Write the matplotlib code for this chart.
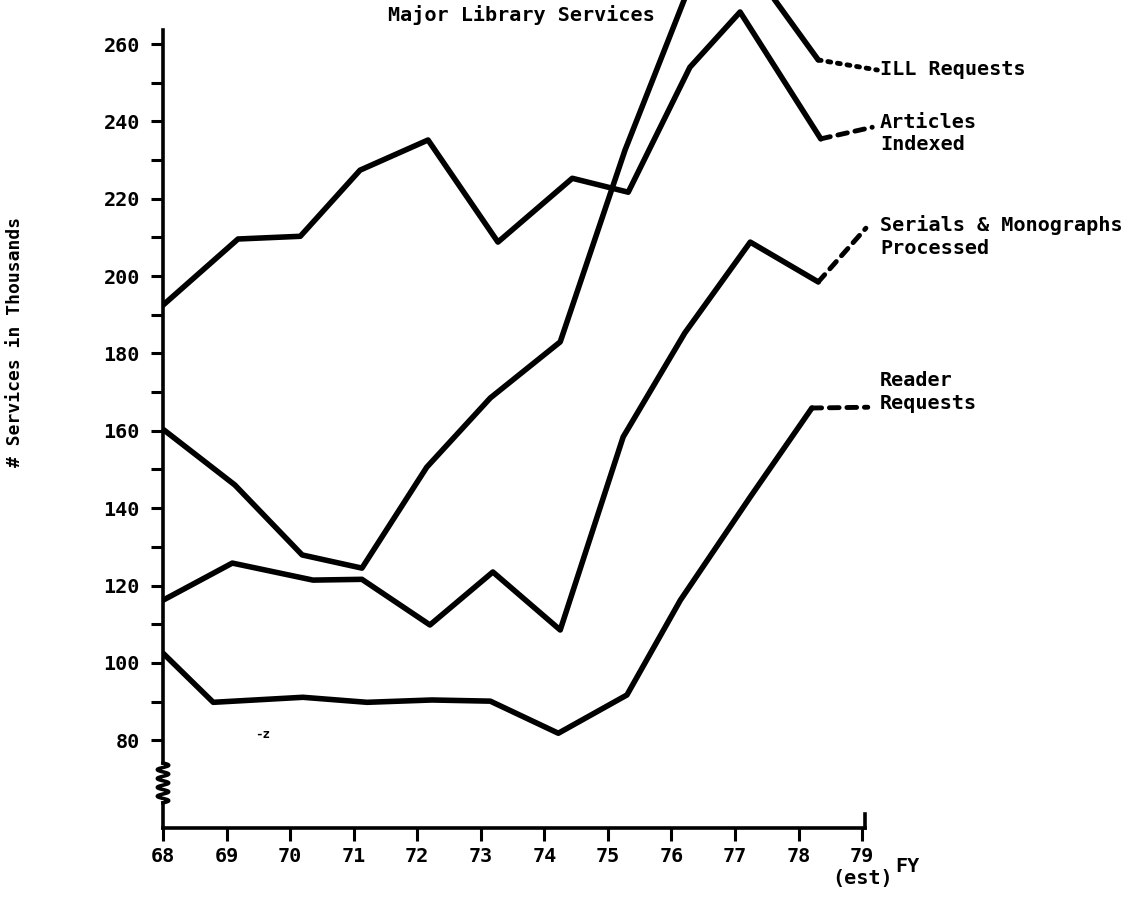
import numpy as np
import matplotlib
matplotlib.use("Agg")
import matplotlib.pyplot as plt
from matplotlib.transforms import blended_transform_factory

plt.rcParams['font.family'] = ['DejaVu Sans Mono']
plt.rcParams['font.weight'] = 'bold'

# fiscal years on the axis
fy_ticks = [68, 69, 70, 71, 72, 73, 74, 75, 76, 77, 78, 79]
fy_labels = ['68', '69', '70', '71', '72', '73', '74', '75', '76', '77', '78', '79\n(est)']

# each series (FY position, thousands)
ill_x = [68.0, 69.13, 70.19, 71.13, 72.15, 73.15, 74.25, 75.27, 76.31, 77.16, 78.31]
ill_y = [160.4, 146.0, 127.9, 124.5, 150.6, 168.5, 183.0, 232.6, 276.0, 282.0, 255.9]

articles_x = [68.0, 69.18, 70.16, 71.10, 72.17, 73.27, 74.44, 75.32, 76.29, 77.08, 78.35]
articles_y = [192.5, 209.6, 210.3, 227.4, 235.2, 208.8, 225.3, 221.7, 254.0, 268.3, 235.5]

serials_x = [68.0, 69.09, 70.36, 71.13, 72.20, 73.19, 74.25, 75.24, 76.21, 77.24, 78.31]
serials_y = [116.2, 125.8, 121.4, 121.6, 109.8, 123.5, 108.5, 158.4, 185.3, 208.8, 198.5]

reader_x = [68.0, 68.79, 70.20, 71.21, 72.23, 73.15, 74.22, 75.30, 76.14, 77.24, 78.21]
reader_y = [102.5, 89.8, 91.1, 89.8, 90.4, 90.1, 81.8, 91.7, 116.2, 142.9, 165.9]

series = [ill_x, articles_x, serials_x, reader_x]
values = [ill_y, articles_y, serials_y, reader_y]

# labels on the right and where the dashed leaders end
names = ['ILL Requests', 'Articles\nIndexed', 'Serials & Monographs\nProcessed', 'Reader\nRequests']
label_y = [253.3, 236.9, 210.2, 170.1]
leader_x = [79.24, 79.16, 79.06, 79.09]
leader_y = [253.3, 238.5, 212.4, 166.1]
leader_style = [(0, (0.6, 1.4)), (0, (2.0, 1.6)), (0, (2.0, 1.6)), (0, (2.0, 1.6))]

fig = plt.figure(figsize=(11.4, 9), dpi=100)
ax = fig.add_axes([0.143, 0.08, 0.6188, 0.92])
ax.set_xlim(68, 79.1)
ax.set_ylim(57.3, 271.4)

for xs, ys in zip(series, values):
    ax.plot(xs, ys, color='black', lw=4, solid_joinstyle='round', solid_capstyle='round')

for xs, ys, ly, lx2, ly2, st, nm in zip(series, values, label_y, leader_x, leader_y, leader_style, names):
    ax.plot([xs[-1], lx2], [ys[-1], ly2], color='black', lw=3.5, linestyle=st,
            dash_capstyle='round', clip_on=False)
    ax.text(79.28, ly, nm, ha='left', va='center', fontsize=14.5, linespacing=1.25)

# axes look
for s in ['top', 'right']:
    ax.spines[s].set_visible(False)
ax.spines['left'].set_bounds(74.1, 263.6)
ax.spines['bottom'].set_bounds(68, 79.05)
ax.spines['left'].set_linewidth(2.6)
ax.spines['bottom'].set_linewidth(2.6)

# zigzag break at the bottom of the value axis
zy = np.linspace(63.8, 74.1, 80)
zx = 68 + 0.09 * np.sin((zy - 63.8) / (74.1 - 63.8) * 2 * np.pi * 4.5)
ax.plot(zx, zy, color='black', lw=2.6, clip_on=False)
ax.plot([68, 68], [57.3, 63.8], color='black', lw=2.6, clip_on=False)
ax.plot([79.05, 79.05], [57.3, 60.8], color='black', lw=2.6, clip_on=False)

ax.set_yticks(np.arange(80, 261, 20))
ax.set_yticks(np.arange(90, 251, 20), minor=True)
ax.tick_params(axis='y', which='both', length=8.6, width=2.2, pad=8, labelsize=14.5)
ax.set_xticks(fy_ticks)
ax.set_xticklabels(fy_labels, linespacing=1.2)
ax.tick_params(axis='x', length=9, width=2.2, pad=5, labelsize=14.5)

tr = blended_transform_factory(ax.transData, ax.transAxes)
ax.text(79.52, -0.046, 'FY', transform=tr, ha='left', va='center', fontsize=14.5)
ax.text(69.45, 80.5, '-z', fontsize=9)

fig.text(521 / 1140, 1 - 15 / 900, 'Major Library Services', ha='center', va='center', fontsize=14.5)
fig.text(15 / 1140, 1 - 342 / 900, '# Services in Thousands', rotation=90,
         ha='center', va='center', fontsize=13)

fig.savefig('out.png', dpi=100)
